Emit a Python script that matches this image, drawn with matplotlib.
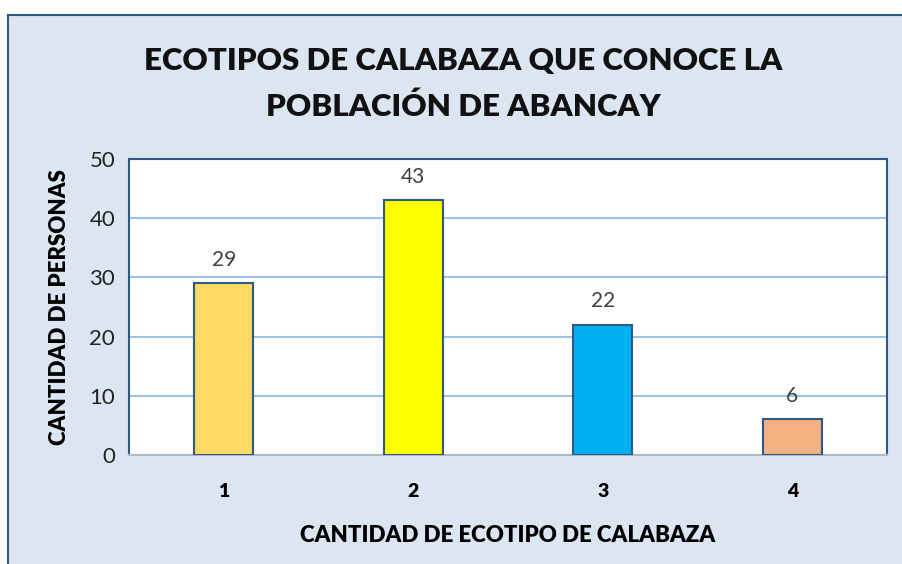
import matplotlib
matplotlib.use("Agg")
import matplotlib.pyplot as plt
from matplotlib.patches import Rectangle

# ── Data ────────────────────────────────────────────────────────────────────
categories = ["1", "2", "3", "4"]
values = [29, 43, 22, 6]
bar_colors = ["#FFD966", "#FFFF00", "#00B0F0", "#F4B183"]
y_ticks = [0, 10, 20, 30, 40, 50]

title = "ECOTIPOS DE CALABAZA QUE CONOCE LA\nPOBLACIÓN DE ABANCAY"
xlabel = "CANTIDAD DE ECOTIPO DE CALABAZA"
ylabel = "CANTIDAD DE PERSONAS"

BG = "#DCE6F2"
EDGE = "#2F5A87"
GRID = "#9DC3E6"

plt.rcParams["font.family"] = ["Lato", "DejaVu Sans"]

W, H = 903, 564
fig = plt.figure(figsize=(W / 100, H / 100), dpi=100)
fig.patch.set_facecolor("white")

# outer chart area
fig.patches.append(Rectangle((8 / W, -0.1), 1.2, (H - 15) / H + 0.1, transform=fig.transFigure,
                             facecolor=BG, edgecolor=EDGE, lw=1.5, zorder=-1))

left, right, top, bottom = 129, 887, 159, 455
ax = fig.add_axes([left / W, 1 - bottom / H, (right - left) / W, (bottom - top) / H])
ax.set_facecolor("white")

x = [i + 0.5 for i in range(len(categories))]
ax.bar(x, values, width=0.31, color=bar_colors, edgecolor=EDGE, linewidth=1.5, zorder=3)
for xi, v in zip(x, values):
    ax.text(xi, v + 2.3, str(v), ha="center", va="bottom", fontsize=15, color="#404040", zorder=4)

ax.set_xlim(0, 4)
ax.set_ylim(0, 50)
ax.set_yticks(y_ticks)
ax.set_yticklabels([str(t) for t in y_ticks], fontsize=16, color="#222222")
ax.set_xticks(x)
ax.set_xticklabels(categories, fontsize=14, fontweight="heavy")
ax.tick_params(axis="both", length=0)
ax.tick_params(axis="x", pad=20)
ax.tick_params(axis="y", pad=10)
ax.grid(axis="y", color=GRID, lw=1.5, zorder=0)
for side in ["left", "top", "right"]:
    ax.spines[side].set_color(EDGE)
    ax.spines[side].set_linewidth(1.5)
ax.spines["bottom"].set_color("#B0B8C0")
ax.spines["bottom"].set_linewidth(1.5)

ax.set_xlabel(xlabel, fontsize=16, fontweight="heavy", labelpad=18)
ax.set_ylabel(ylabel, fontsize=16, fontweight="heavy", labelpad=14)

fig.text(463 / W, 1 - 84 / H, title, ha="center", va="center", fontsize=22.5,
         fontweight="heavy", color="#111111", linespacing=1.75)

fig.savefig("out.png", dpi=100)
